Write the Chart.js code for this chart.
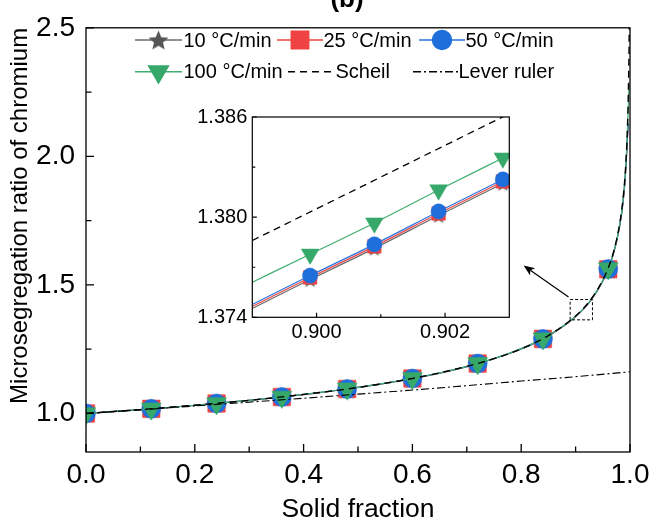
<!DOCTYPE html>
<html>
<head>
<meta charset="utf-8">
<script src="https://cdn.jsdelivr.net/npm/chart.js@4/dist/chart.umd.min.js"></script>
<style>
  html, body { margin: 0; padding: 0; background: #fff; }
  #wrap { position: relative; width: 659px; height: 526px; }
  #main { position: absolute; left: 0; top: 0; width: 659px; height: 526px; }
  #inset { position: absolute; left: 190px; top: 100px; width: 330px; height: 250px; }
</style>
</head>
<body>
<div id="wrap">
  <canvas id="main" width="659" height="526"></canvas>
  <canvas id="inset" width="330" height="250"></canvas>
</div>
<script>
// ---- data -------------------------------------------------------------
const seriesLabels = ['10 °C/min', '25 °C/min', '50 °C/min', '100 °C/min', 'Scheil', 'Lever ruler'];

// solid fraction sampling of the cooling-rate curves
const solidFraction = [0, 0.06, 0.12, 0.18, 0.24, 0.30, 0.36, 0.42, 0.48, 0.54, 0.60, 0.66,
                       0.72, 0.78, 0.84, 0.90, 0.93, 0.96, 0.975, 0.985, 0.99, 0.993, 0.995, 0.997, 0.998];
const markerFractions = [0, 0.12, 0.24, 0.36, 0.48, 0.60, 0.72, 0.84, 0.96];

const rate10  = [1.000, 1.009, 1.018, 1.028, 1.039, 1.051, 1.064, 1.078, 1.095, 1.114, 1.136, 1.161,
                 1.194, 1.234, 1.290, 1.376, 1.445, 1.561, 1.664, 1.782, 1.882, 1.975, 2.061, 2.126, null];
const rate25  = [1.000, 1.009, 1.018, 1.028, 1.039, 1.051, 1.064, 1.078, 1.095, 1.114, 1.136, 1.162,
                 1.194, 1.235, 1.290, 1.376, 1.446, 1.561, 1.665, 1.783, 1.884, 1.977, 2.063, 2.128, null];
const rate50  = [1.000, 1.009, 1.018, 1.028, 1.039, 1.051, 1.064, 1.079, 1.095, 1.114, 1.136, 1.162,
                 1.194, 1.235, 1.290, 1.377, 1.446, 1.562, 1.666, 1.784, 1.885, 1.978, 2.065, 2.130, null];
const rate100 = [1.000, 1.009, 1.018, 1.028, 1.039, 1.051, 1.064, 1.079, 1.096, 1.114, 1.137, 1.162,
                 1.195, 1.236, 1.291, 1.378, 1.448, 1.564, 1.669, 1.790, 1.893, 1.992, 2.085, 2.200, 2.280];

const scheilFraction = [0, 0.1, 0.2, 0.3, 0.4, 0.5, 0.6, 0.7, 0.75, 0.8, 0.85, 0.9, 0.92, 0.94, 0.96,
                        0.97, 0.98, 0.985, 0.99, 0.993, 0.995, 0.997, 0.998, 0.9985, 0.999];
const scheilRatio    = [1.000, 1.015, 1.032, 1.051, 1.074, 1.101, 1.136, 1.183, 1.213, 1.251, 1.303, 1.379,
                        1.422, 1.481, 1.566, 1.630, 1.725, 1.795, 1.899, 1.997, 2.093, 2.248, 2.378, 2.474, 2.618];

const leverFraction = [0, 0.1, 0.2, 0.3, 0.4, 0.5, 0.6, 0.7, 0.8, 0.9, 1.0];
const leverRatio    = [1.000, 1.014, 1.029, 1.044, 1.059, 1.075, 1.091, 1.108, 1.126, 1.143, 1.162];

const xTicksMain = [0, 0.2, 0.4, 0.6, 0.8, 1.0];
const xMinorMain = [0.1, 0.3, 0.5, 0.7, 0.9];
const yTicksMain = [1.0, 1.5, 2.0, 2.5];
const yMinorMain = [1.25, 1.75, 2.25];

// enlarged window around fs = 0.90
const insetFraction = [0.899, 0.8999, 0.9009, 0.9019, 0.9029, 0.903];
const insetMarkerFractions = [0.8999, 0.9009, 0.9019, 0.9029];
const inset10  = [1.37453, 1.37626, 1.37813, 1.38010, 1.38202, 1.38221];
const inset25  = [1.37465, 1.37638, 1.37825, 1.38022, 1.38214, 1.38233];
const inset50  = [1.37477, 1.37650, 1.37837, 1.38034, 1.38226, 1.38245];
const inset100 = [1.37610, 1.37778, 1.37965, 1.38163, 1.38354, 1.38373];
const insetScheilFraction = [0.899, 0.900, 0.901, 0.902, 0.903];
const insetScheilRatio    = [1.3786, 1.3805, 1.3824, 1.3843, 1.3862];

const xTicksInset = [0.900, 0.902];
const xMinorInset = [0.901];
const yTicksInset = [1.374, 1.380, 1.386];
const yMinorInset = [1.377, 1.383];

// ---- styling ----------------------------------------------------------
const FONT = '"Liberation Sans", Arial, Helvetica, sans-serif';
Chart.defaults.font.family = FONT;
Chart.defaults.color = '#000';

function starSprite(size, color) {
  const c = document.createElement('canvas');
  c.width = size; c.height = size;
  const g = c.getContext('2d');
  const cx = size / 2, cy = size / 2 + size * 0.05, ro = size / 2, ri = ro * 0.45;
  g.beginPath();
  for (let k = 0; k < 10; k++) {
    const r = k % 2 ? ri : ro;
    const a = -Math.PI / 2 + k * Math.PI / 5;
    g.lineTo(cx + r * Math.cos(a), cy + r * Math.sin(a));
  }
  g.closePath();
  g.fillStyle = color;
  g.fill();
  return c;
}

const styles = [
  { line: '#6b6b6b', fill: '#555555', shape: starSprite(21, '#555555'), shapeSmall: starSprite(16, '#555555'), rot: 0, r: 10, rs: 8 },
  { line: '#ef4646', fill: '#ef4343', shape: 'rect', rot: 0, r: 12.4, rs: 9.6 },
  { line: '#2a74dd', fill: '#1e6fdc', shape: 'circle', rot: 0, r: 9.5, rs: 7.6 },
  { line: '#3fae70', fill: '#36a96a', shape: 'triangle', rot: 180, r: 11.5, rs: 10.2 }
];

const pts = (xs, ys) => xs.map((x, i) => ({ x: x, y: ys[i] }));

function rateDataset(k, xs, ys, marks, small) {
  const s = styles[k];
  const shape = small && s.shapeSmall ? s.shapeSmall : s.shape;
  const radius = small ? s.rs : s.r;
  return {
    label: seriesLabels[k],
    data: pts(xs, ys),
    borderColor: s.line,
    borderWidth: 1.2,
    backgroundColor: s.fill,
    pointStyle: shape,
    rotation: s.rot,
    pointRadius: ctx => (marks.includes(xs[ctx.dataIndex]) ? radius : 0),
    pointBackgroundColor: s.fill,
    pointBorderColor: s.fill,
    pointBorderWidth: 0.5,
    cubicInterpolationMode: 'monotone',
    clip: 0,
    order: 5 - k
  };
}

function frameAndTicks(cfg) {
  return {
    id: 'frameAndTicks',
    afterDatasetsDraw(chart) {
      const { ctx, chartArea: a, scales: { x, y } } = chart;
      ctx.save();
      ctx.strokeStyle = '#000';
      ctx.setLineDash([]);
      ctx.lineWidth = cfg.width;
      ctx.strokeRect(a.left, a.top, a.right - a.left, a.bottom - a.top);
      ctx.beginPath();
      const xt = (vals, len) => vals.forEach(v => {
        const px = x.getPixelForValue(v);
        ctx.moveTo(px, a.bottom); ctx.lineTo(px, a.bottom - len);
      });
      const yt = (vals, len) => vals.forEach(v => {
        const py = y.getPixelForValue(v);
        ctx.moveTo(a.left, py); ctx.lineTo(a.left + len, py);
      });
      xt(cfg.xMajor, cfg.major); xt(cfg.xMinor, cfg.minor);
      yt(cfg.yMajor, cfg.major); yt(cfg.yMinor, cfg.minor);
      ctx.stroke();
      ctx.restore();
    }
  };
}

// legend, panel letter, zoom box and arrow
const decorations = {
  id: 'decorations',
  afterDraw(chart) {
    const { ctx, scales: { x, y } } = chart;
    const ds = chart.data.datasets;
    ctx.save();

    // panel letter
    ctx.font = 'bold 26px ' + FONT;
    ctx.fillStyle = '#000';
    ctx.textAlign = 'center';
    ctx.textBaseline = 'alphabetic';
    ctx.fillText('(b)', 347, 6.5);

    // legend
    const items = [
      { label: seriesLabels[0], x0: 135, x1: 182, y: 40, tx: 183.5, ty: 46.7 },
      { label: seriesLabels[1], x0: 277, x1: 323, y: 40, tx: 323.5, ty: 46.7 },
      { label: seriesLabels[2], x0: 419, x1: 465, y: 40, tx: 465.5, ty: 46.7 },
      { label: seriesLabels[3], x0: 135, x1: 182, y: 71.7, tx: 183.5, ty: 78 },
      { label: seriesLabels[4], x0: 288, x1: 335, y: 71.7, tx: 335.5, ty: 78 },
      { label: seriesLabels[5], x0: 413, x1: 458, y: 71.7, tx: 458.5, ty: 78 }
    ];
    items.forEach(it => {
      const d = ds.find(e => e.label === it.label);
      ctx.save();
      ctx.strokeStyle = d.borderColor;
      ctx.lineWidth = 1.4;
      ctx.setLineDash(d.borderDash || []);
      ctx.beginPath();
      ctx.moveTo(it.x0, it.y); ctx.lineTo(it.x1, it.y);
      ctx.stroke();
      ctx.setLineDash([]);
      const k = seriesLabels.indexOf(it.label);
      if (k < 4) {
        const s = styles[k];
        ctx.fillStyle = s.fill;
        ctx.strokeStyle = s.fill;
        Chart.helpers.drawPoint(ctx, { pointStyle: s.shape, rotation: s.rot, radius: s.r, borderWidth: 0.5 },
          (it.x0 + it.x1) / 2, it.y);
      }
      ctx.restore();
      ctx.font = '20px ' + FONT;
      ctx.fillStyle = '#000';
      ctx.textAlign = 'left';
      ctx.textBaseline = 'alphabetic';
      ctx.fillText(it.label, it.tx, it.ty);
    });

    // dashed box marking the enlarged window
    const bx0 = x.getPixelForValue(0.890), bx1 = x.getPixelForValue(0.931);
    const by0 = y.getPixelForValue(1.443), by1 = y.getPixelForValue(1.364);
    ctx.strokeStyle = '#000';
    ctx.lineWidth = 1;
    ctx.setLineDash([3, 2]);
    ctx.strokeRect(bx0, by0, bx1 - bx0, by1 - by0);
    ctx.setLineDash([]);

    // arrow towards the inset
    const ax0 = x.getPixelForValue(0.887), ay0 = y.getPixelForValue(1.453);
    const ax1 = x.getPixelForValue(0.8045), ay1 = y.getPixelForValue(1.575);
    const ang = Math.atan2(ay1 - ay0, ax1 - ax0);
    ctx.lineWidth = 1.2;
    ctx.beginPath();
    ctx.moveTo(ax0, ay0);
    ctx.lineTo(ax1 - 6 * Math.cos(ang), ay1 - 6 * Math.sin(ang));
    ctx.stroke();
    ctx.beginPath();
    ctx.moveTo(ax1, ay1);
    ctx.lineTo(ax1 - 11 * Math.cos(ang) + 4.5 * Math.sin(ang), ay1 - 11 * Math.sin(ang) - 4.5 * Math.cos(ang));
    ctx.lineTo(ax1 - 8 * Math.cos(ang), ay1 - 8 * Math.sin(ang));
    ctx.lineTo(ax1 - 11 * Math.cos(ang) - 4.5 * Math.sin(ang), ay1 - 11 * Math.sin(ang) + 4.5 * Math.cos(ang));
    ctx.closePath();
    ctx.fillStyle = '#000';
    ctx.fill();

    ctx.restore();
  }
};

// ---- main chart -------------------------------------------------------
new Chart(document.getElementById('main'), {
  type: 'line',
  data: {
    datasets: [
      rateDataset(0, solidFraction, rate10, markerFractions, false),
      rateDataset(1, solidFraction, rate25, markerFractions, false),
      rateDataset(2, solidFraction, rate50, markerFractions, false),
      rateDataset(3, solidFraction, rate100, markerFractions, false),
      {
        label: seriesLabels[4],
        data: pts(scheilFraction, scheilRatio),
        borderColor: '#000', borderWidth: 1.4, borderDash: [7, 5],
        pointRadius: 0, cubicInterpolationMode: 'monotone', clip: 0, order: 0
      },
      {
        label: seriesLabels[5],
        data: pts(leverFraction, leverRatio),
        borderColor: '#000', borderWidth: 1.1, borderDash: [8, 3, 2, 3],
        pointRadius: 0, cubicInterpolationMode: 'monotone', clip: 0, order: 1
      }
    ]
  },
  options: {
    responsive: false,
    animation: false,
    events: [],
    layout: { padding: { left: 0, right: 29, top: 21.7, bottom: 0 } },
    plugins: { legend: { display: false }, tooltip: { enabled: false } },
    scales: {
      x: {
        type: 'linear', min: 0, max: 1,
        grid: { display: false, drawTicks: false },
        border: { display: false },
        afterBuildTicks: s => { s.ticks = xTicksMain.map(v => ({ value: v })); },
        afterFit: s => { s.height = 74; },
        ticks: { font: { size: 28 }, color: '#000', padding: 6, maxRotation: 0, autoSkip: false,
                 callback: v => Number(v).toFixed(1) },
        title: { display: true, text: 'Solid fraction', font: { size: 26.5 }, color: '#000',
                 padding: { top: 0, bottom: 0 } }
      },
      y: {
        type: 'linear', min: 0.85, max: 2.5,
        grid: { display: false, drawTicks: false },
        border: { display: false },
        afterBuildTicks: s => { s.ticks = yTicksMain.map(v => ({ value: v })); },
        afterFit: s => { s.width = 86; },
        ticks: { font: { size: 28 }, color: '#000', padding: 11, autoSkip: false,
                 callback: v => Number(v).toFixed(1) },
        title: { display: true, text: 'Microsegregation ratio of chromium', align: 'end',
                 font: { size: 24 }, color: '#000', padding: { top: 6, bottom: 0 } }
      }
    }
  },
  plugins: [
    frameAndTicks({ width: 1.3, major: 8, minor: 5.5, xMajor: xTicksMain, xMinor: xMinorMain,
                    yMajor: yTicksMain, yMinor: yMinorMain }),
    decorations
  ]
});

// ---- inset chart ------------------------------------------------------
new Chart(document.getElementById('inset'), {
  type: 'line',
  data: {
    datasets: [
      rateDataset(0, insetFraction, inset10, insetMarkerFractions, true),
      rateDataset(1, insetFraction, inset25, insetMarkerFractions, true),
      rateDataset(2, insetFraction, inset50, insetMarkerFractions, true),
      rateDataset(3, insetFraction, inset100, insetMarkerFractions, true),
      {
        label: seriesLabels[4],
        data: pts(insetScheilFraction, insetScheilRatio),
        borderColor: '#000', borderWidth: 1.3, borderDash: [7, 5],
        pointRadius: 0, clip: 0, order: 0
      }
    ]
  },
  options: {
    responsive: false,
    animation: false,
    events: [],
    layout: { padding: { left: 0, right: 10.7, top: 14.3, bottom: 0 } },
    plugins: { legend: { display: false }, tooltip: { enabled: false } },
    scales: {
      x: {
        type: 'linear', min: 0.899, max: 0.903,
        grid: { display: false, drawTicks: false },
        border: { display: false },
        afterBuildTicks: s => { s.ticks = xTicksInset.map(v => ({ value: v })); },
        afterFit: s => { s.height = 32.7; },
        ticks: { font: { size: 20 }, color: '#000', padding: 3, maxRotation: 0, autoSkip: false,
                 callback: v => Number(v).toFixed(3) }
      },
      y: {
        type: 'linear', min: 1.374, max: 1.386,
        grid: { display: false, drawTicks: false },
        border: { display: false },
        afterBuildTicks: s => { s.ticks = yTicksInset.map(v => ({ value: v })); },
        afterFit: s => { s.width = 62.3; },
        ticks: { font: { size: 20 }, color: '#000', padding: 5, autoSkip: false,
                 callback: v => Number(v).toFixed(3) }
      }
    }
  },
  plugins: [
    frameAndTicks({ width: 1.2, major: 4.5, minor: 3, xMajor: xTicksInset, xMinor: xMinorInset,
                    yMajor: yTicksInset, yMinor: yMinorInset })
  ]
});
</script>
</body>
</html>
